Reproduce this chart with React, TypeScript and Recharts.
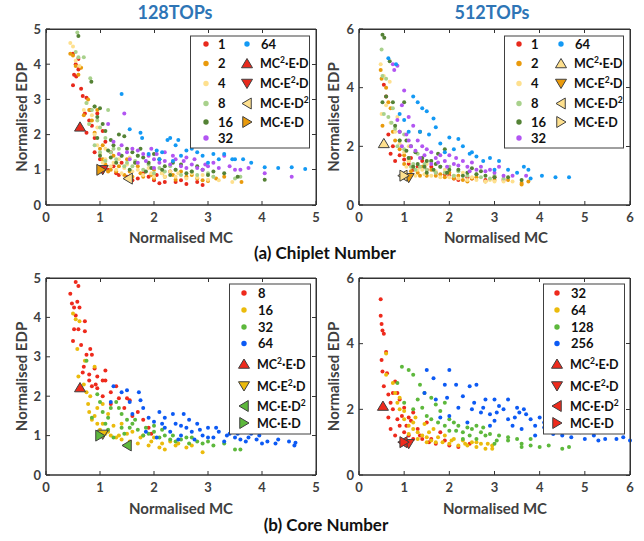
import React from "react";
import { ScatterChart, Scatter, XAxis, YAxis, ReferenceArea } from "recharts";

type Pt = [number, number];
type Dir = "up" | "down" | "left" | "right";

// ── (a) chiplet number, 128TOPs ──
const chip128_1: Pt[] = [[0.5,4.3],[0.55,4.0],[0.6,4.15],[0.52,3.7],[0.56,3.65],[0.5,3.4],[0.6,3.85],[0.65,3.3],[0.68,3.1],[0.75,3.05],[0.72,2.6],[0.8,2.4],[0.75,2.05],[0.85,2.25],[0.9,1.9],[0.95,2.6],[1.05,2.1],[1.1,1.8],[1.2,1.5],[1.3,0.9],[1.5,0.8],[1.6,0.7],[2.0,0.7],[2.1,0.62],[2.2,0.65],[2.5,0.7],[2.6,0.6],[2.8,0.65],[2.9,0.57],[1.8,0.9],[1.4,1.2],[2.3,0.95],[1.0,1.3],[0.82,2.7],[0.62,3.9],[1.15,1.0],[1.35,0.85],[1.7,0.75],[1.9,0.8],[2.4,0.65],[1.25,1.1],[0.9,1.5],[2.05,0.85]];
const chip128_2: Pt[] = [[0.45,4.3],[0.5,4.25],[0.55,3.95],[0.6,3.7],[0.65,3.9],[0.7,2.55],[0.78,3.0],[0.85,2.4],[0.9,2.05],[1.0,1.6],[1.05,1.3],[1.1,1.15],[1.2,1.0],[1.3,0.95],[1.45,0.85],[1.6,0.8],[1.8,0.8],[2.0,0.75],[2.2,0.8],[2.4,0.72],[2.6,0.8],[2.8,0.75],[3.0,0.68],[3.15,0.75],[3.62,0.65],[1.5,1.3],[1.7,1.1],[2.0,1.0],[2.5,0.95],[1.25,1.4],[0.95,2.7],[3.3,0.8],[1.15,0.95],[1.35,1.1],[1.55,0.95],[1.75,0.9],[1.95,0.85],[2.15,0.9],[2.35,0.85],[2.7,0.85],[2.9,0.7],[0.8,2.7],[1.05,1.7]];
const chip128_4: Pt[] = [[0.45,4.6],[0.5,4.5],[0.55,4.1],[0.62,3.95],[0.7,2.7],[0.75,2.9],[0.8,2.3],[0.9,2.0],[0.95,1.7],[1.0,1.45],[1.1,1.3],[1.2,1.1],[1.3,1.0],[1.4,0.9],[1.6,0.95],[1.8,0.85],[2.0,0.8],[2.2,0.8],[2.4,0.8],[2.6,0.75],[2.8,0.78],[3.0,0.72],[3.2,0.7],[3.45,0.65],[1.5,1.15],[1.9,1.05],[2.3,0.95],[2.7,0.9],[1.1,1.6],[0.85,2.55],[1.35,1.3],[1.65,1.2],[1.05,1.2],[1.25,1.2],[1.45,1.05],[1.7,1.0],[1.95,0.9],[2.15,0.9],[2.45,0.9],[2.9,0.85],[3.1,0.8],[0.95,2.2],[1.55,1.35]];
const chip128_8: Pt[] = [[0.55,4.35],[0.58,4.9],[0.6,4.2],[0.7,4.2],[0.82,3.6],[0.75,2.9],[0.85,2.7],[0.9,2.8],[0.95,2.4],[1.0,2.2],[1.1,1.9],[1.15,2.7],[1.2,1.5],[1.3,1.3],[1.4,1.4],[1.5,1.2],[1.6,1.1],[1.8,1.0],[2.0,0.9],[2.2,0.95],[2.5,0.85],[2.8,0.85],[3.1,0.8],[3.5,0.75],[3.6,0.8],[1.0,1.5],[0.9,1.7],[1.7,1.4],[2.3,1.1],[0.8,2.3],[1.1,1.25],[1.25,1.6],[1.45,1.1],[1.65,1.25],[1.9,1.15],[2.1,1.05],[2.4,1.0],[2.7,0.95],[3.0,0.9],[1.35,1.6]];
const chip128_16: Pt[] = [[0.6,4.8],[0.84,3.5],[0.9,2.8],[1.0,2.75],[0.95,2.5],[1.05,2.3],[1.1,2.1],[1.2,1.85],[1.25,1.7],[1.35,2.0],[1.45,1.95],[1.5,1.6],[1.6,1.5],[1.7,1.4],[1.8,1.35],[1.9,1.2],[2.0,1.45],[2.1,1.3],[2.2,1.1],[2.4,1.0],[2.5,1.15],[2.7,0.95],[2.9,1.0],[3.1,0.95],[3.3,0.9],[3.55,0.8],[4.05,0.72],[1.0,1.4],[1.3,1.2],[1.55,1.0],[1.85,0.95],[2.3,0.85],[0.95,1.9],[1.15,1.55],[1.4,1.4],[1.65,1.2],[1.95,1.05],[2.15,1.0],[2.35,1.2],[2.6,0.9],[2.8,1.1],[3.0,0.85],[1.2,1.35],[1.75,1.6]];
const chip128_32: Pt[] = [[1.15,2.3],[1.45,2.6],[1.25,1.8],[1.4,1.7],[1.5,1.5],[1.6,1.6],[1.7,1.55],[1.8,1.45],[1.9,1.4],[2.0,1.3],[2.1,1.2],[2.2,1.25],[2.3,1.15],[2.4,1.3],[2.5,1.1],[2.6,1.05],[2.7,1.15],[2.8,1.05],[2.9,1.0],[3.0,1.1],[3.1,1.2],[3.2,1.05],[3.3,1.4],[3.5,1.0],[3.6,1.0],[3.75,1.05],[4.05,0.9],[4.55,0.8],[1.7,1.2],[2.2,1.5],[2.6,1.35],[2.0,1.05],[1.55,1.3],[1.85,1.25],[2.05,1.45],[2.35,1.4],[2.55,1.25],[2.75,1.3],[2.95,1.15],[3.4,1.1],[1.35,1.45],[1.95,1.6]];
const chip128_64: Pt[] = [[1.4,3.15],[1.55,2.15],[1.75,2.05],[1.78,1.9],[2.05,1.55],[2.15,1.5],[2.25,1.85],[2.3,1.9],[2.4,1.7],[2.45,1.85],[2.6,1.55],[2.7,1.6],[2.8,1.5],[2.9,1.4],[3.0,1.2],[3.1,1.45],[3.2,1.3],[3.3,1.45],[3.45,1.3],[3.5,1.3],[3.65,1.3],[3.8,1.2],[4.05,1.07],[4.3,1.05],[4.55,1.07],[4.8,1.02],[2.35,1.25],[2.5,1.4],[2.1,1.3],[1.9,1.45]];
// optimum markers: MC²·E·D, MC·E²·D, MC·E·D², MC·E·D
const chip128Opt: Pt[] = [[0.63,2.22],[1.05,1.0],[1.52,0.75],[1.02,1.0]];

// ── (a) chiplet number, 512TOPs ──
const chip512_1: Pt[] = [[0.55,4.1],[0.6,3.7],[0.65,2.4],[0.7,1.75],[0.8,1.5],[0.9,1.7],[1.0,1.55],[1.1,1.4],[1.3,1.3],[1.5,1.2],[1.7,1.1],[1.9,1.05],[2.1,0.9],[2.2,0.85],[2.5,0.9],[2.8,0.85],[3.0,0.95],[3.2,0.85],[1.4,1.5],[1.2,1.2],[0.75,2.0],[1.6,1.3],[2.0,1.0],[2.4,0.95],[1.15,1.6]];
const chip512_2: Pt[] = [[0.48,4.6],[0.5,4.3],[0.52,2.7],[0.6,4.0],[0.65,3.5],[0.7,3.3],[0.75,2.5],[0.8,2.2],[0.9,1.9],[1.0,1.7],[1.1,1.5],[1.2,1.3],[1.3,1.1],[1.5,1.0],[1.7,1.0],[1.9,0.95],[2.1,0.9],[2.3,0.85],[2.5,0.9],[2.8,0.8],[3.0,0.85],[3.3,0.85],[3.6,0.75],[3.6,0.7],[3.75,0.8],[1.4,1.3],[1.6,1.2],[2.0,1.1],[1.15,1.15],[1.35,1.0],[1.8,1.05],[2.2,1.0],[2.6,0.95],[2.4,0.8],[1.0,1.4]];
const chip512_4: Pt[] = [[0.48,4.8],[0.5,3.1],[0.55,4.4],[0.6,3.4],[0.68,4.2],[0.7,2.8],[0.8,2.5],[0.9,2.1],[1.0,1.8],[1.1,1.5],[1.2,1.3],[1.3,1.2],[1.45,1.05],[1.6,1.0],[1.8,0.95],[2.0,0.95],[2.2,0.9],[2.4,0.85],[2.6,0.85],[2.8,0.8],[3.0,0.8],[3.4,0.8],[1.5,1.4],[1.9,1.2],[2.3,1.1],[1.1,2.0],[0.85,3.0],[1.05,1.3],[1.25,1.0],[1.4,1.2],[1.7,1.15],[2.1,1.0],[2.5,0.95],[2.9,0.85],[3.2,0.8]];
const chip512_8: Pt[] = [[0.5,5.3],[0.52,4.4],[0.55,3.1],[0.6,4.3],[0.65,3.0],[0.72,2.8],[0.8,2.6],[0.9,2.2],[1.0,1.9],[1.1,1.6],[1.2,1.4],[1.35,1.3],[1.5,1.2],[1.7,1.1],[1.9,1.1],[2.1,1.0],[2.4,1.0],[2.7,0.95],[2.9,0.9],[3.2,0.9],[1.3,1.75],[1.6,1.5],[2.0,1.3],[1.0,2.4],[0.75,3.3],[1.15,1.3],[1.25,1.2],[1.45,1.4],[1.8,1.3],[2.2,1.15],[2.6,1.05],[3.0,1.0],[0.85,2.0]];
const chip512_16: Pt[] = [[0.52,5.8],[0.56,5.7],[0.52,3.5],[0.6,3.7],[0.68,4.9],[0.75,3.5],[0.8,2.7],[0.9,2.5],[1.0,3.5],[1.05,2.2],[1.15,2.0],[1.25,1.8],[1.35,2.5],[1.4,1.6],[1.5,1.5],[1.6,1.5],[1.7,1.4],[1.8,1.3],[1.9,1.9],[2.0,1.2],[2.2,1.2],[2.4,1.1],[2.6,1.05],[2.8,1.0],[3.0,0.95],[3.3,0.95],[3.6,0.85],[1.2,1.3],[1.5,1.1],[1.75,1.75],[1.1,1.6],[1.3,1.4],[1.45,1.3],[1.65,1.2],[1.95,1.1],[2.3,1.0],[2.5,1.25],[2.7,1.15],[0.9,2.2],[1.05,1.85]];
const chip512_32: Pt[] = [[0.75,4.8],[0.85,4.75],[0.78,4.6],[0.95,3.4],[1.0,3.9],[1.1,3.0],[0.9,2.5],[1.05,2.4],[1.2,2.7],[1.3,2.2],[1.4,2.0],[1.5,1.9],[1.6,1.8],[1.7,1.6],[1.8,1.7],[1.9,1.5],[2.0,1.7],[2.1,1.4],[2.2,1.35],[2.3,1.5],[2.4,1.3],[2.6,1.2],[2.7,1.3],[2.8,1.15],[3.0,1.1],[3.2,1.0],[3.4,1.0],[3.7,1.0],[1.15,2.0],[1.35,1.6],[1.6,1.4],[2.5,1.45],[0.95,2.0],[1.25,1.85],[1.45,1.7],[1.75,1.45],[1.95,1.3],[2.15,1.6],[2.45,1.15],[2.9,1.2],[3.1,1.3],[1.1,2.2],[0.85,2.9]];
const chip512_64: Pt[] = [[0.65,5.0],[0.82,4.8],[0.9,3.1],[1.0,2.9],[1.2,3.7],[1.3,3.5],[1.4,3.3],[1.5,3.2],[1.65,2.95],[1.7,2.65],[1.35,2.5],[1.55,2.4],[1.8,2.1],[2.0,2.3],[2.2,2.25],[2.3,2.0],[2.5,1.8],[2.6,1.65],[2.75,1.5],[2.9,1.6],[3.1,1.5],[3.3,1.2],[3.5,1.1],[3.65,1.3],[3.75,1.2],[3.8,0.9],[4.05,1.0],[4.35,0.95],[4.65,0.95],[2.1,1.9],[1.9,1.8],[2.45,1.75],[3.0,1.2],[1.1,2.5]];
const chip512Opt: Pt[] = [[0.55,2.1],[1.1,0.93],[0.97,1.0],[1.0,1.0]];

// ── (b) core number, 128TOPs ──
const core128_8: Pt[] = [[0.45,4.6],[0.48,4.35],[0.55,4.9],[0.58,4.4],[0.6,4.8],[0.52,4.25],[0.55,4.05],[0.62,4.25],[0.52,3.7],[0.6,3.7],[0.72,3.9],[0.72,3.65],[0.5,3.4],[0.65,3.3],[0.75,3.05],[0.82,3.2],[0.85,3.05],[0.68,2.6],[0.7,2.75],[0.8,2.55],[0.9,2.7],[0.95,2.5],[1.1,2.65],[1.05,2.4],[0.95,2.2],[1.1,2.4],[0.85,2.25],[1.2,2.1],[1.35,1.95],[1.5,1.95],[1.55,1.9],[1.7,1.6],[1.8,1.4],[1.2,1.8],[1.45,1.7],[1.9,1.2],[1.95,1.05],[1.6,1.5],[0.8,2.4],[0.92,2.3],[1.3,2.25],[1.05,2.0]];
const core128_16: Pt[] = [[0.5,4.1],[0.55,3.95],[0.62,3.9],[0.58,3.2],[0.72,2.9],[0.6,2.5],[0.7,2.3],[0.75,2.1],[0.78,1.8],[0.8,1.6],[0.85,1.4],[0.9,1.5],[0.95,1.3],[1.0,1.15],[1.1,1.05],[1.2,1.0],[1.3,0.95],[1.4,0.9],[1.55,0.85],[1.7,0.8],[1.9,0.75],[2.1,0.7],[2.2,0.65],[2.4,0.75],[2.6,0.7],[2.9,0.58],[1.15,1.55],[1.4,1.3],[1.6,1.1],[1.8,1.0],[2.0,0.95],[2.3,0.85],[0.9,2.75],[1.05,1.8],[0.82,2.0],[1.25,1.25],[1.05,1.3],[1.15,1.1],[1.35,1.0],[1.5,1.05],[1.75,0.95],[1.95,0.85],[2.15,0.8],[2.45,0.8],[2.7,0.75],[0.95,1.7]];
const core128_32: Pt[] = [[0.75,2.9],[0.95,2.05],[1.0,1.85],[1.05,1.6],[1.1,1.3],[0.85,1.45],[1.2,1.7],[1.3,1.85],[1.35,1.7],[1.4,1.55],[1.5,1.4],[1.55,1.2],[1.6,1.3],[1.7,1.15],[1.8,1.0],[1.9,1.05],[2.0,1.1],[2.1,0.95],[2.2,1.0],[2.3,0.9],[2.4,0.85],[2.5,0.9],[2.65,0.8],[2.8,0.85],[2.9,0.8],[3.1,0.75],[3.5,0.65],[3.6,0.65],[1.25,0.95],[1.45,1.05],[1.0,1.05],[1.15,1.15],[2.0,1.25],[2.6,0.95],[1.15,1.45],[1.4,1.2],[1.65,1.4],[1.85,1.2],[2.15,1.15],[2.35,1.0],[2.7,0.95],[3.0,0.85],[3.3,0.8]];
const core128_64: Pt[] = [[1.2,1.85],[1.25,2.25],[1.4,2.1],[1.5,2.15],[1.55,1.85],[1.72,2.1],[1.75,1.9],[1.8,1.7],[1.6,1.55],[1.9,1.45],[2.0,1.35],[2.1,1.6],[2.15,1.3],[2.2,1.2],[2.3,1.1],[2.35,1.55],[2.4,1.3],[2.5,1.0],[2.6,1.2],[2.65,1.4],[2.7,1.1],[2.8,1.3],[2.9,1.0],[3.0,1.2],[3.1,0.95],[3.2,1.1],[3.3,0.85],[3.4,1.05],[3.5,0.95],[3.6,0.9],[3.7,0.85],[3.8,1.05],[3.9,0.9],[4.0,0.8],[4.1,0.85],[4.25,0.8],[4.5,0.85],[4.6,0.75],[4.62,0.82],[2.05,0.95],[2.45,0.9],[3.0,0.95],[1.85,1.1],[2.75,0.9],[2.2,1.45],[2.5,1.25],[2.85,1.15],[3.15,1.2],[3.35,1.0],[3.55,1.05],[3.75,0.95],[3.95,1.0],[4.3,0.9],[2.55,1.55]];
const core128Opt: Pt[] = [[0.63,2.22],[1.05,1.03],[1.5,0.75],[1.0,1.0]];

// ── (b) core number, 512TOPs ──
const core512_32: Pt[] = [[0.48,5.35],[0.48,4.85],[0.5,4.6],[0.52,4.4],[0.55,4.3],[0.5,3.5],[0.52,3.15],[0.6,3.75],[0.55,2.7],[0.62,3.1],[0.65,2.45],[0.7,2.2],[0.65,1.75],[0.75,2.0],[0.8,2.85],[0.85,2.5],[0.9,2.3],[0.95,1.8],[0.7,1.4],[0.8,1.2],[1.0,2.05],[1.05,1.5],[1.1,1.2],[1.2,1.9],[1.3,1.4],[1.4,1.1],[1.55,1.0],[1.7,0.95],[1.8,1.3],[2.0,0.9],[2.2,0.85],[2.45,0.95],[1.15,1.65],[0.9,1.5],[1.5,1.6],[1.0,1.3],[1.2,1.1],[1.35,1.2],[1.6,1.1],[1.9,1.05],[0.85,1.7],[1.1,1.75],[0.75,2.5]];
const core512_64: Pt[] = [[0.6,3.7],[0.6,3.05],[0.75,2.8],[0.8,2.5],[0.85,2.2],[0.9,2.0],[1.0,1.7],[1.1,1.5],[1.2,1.4],[1.3,1.3],[1.4,1.2],[1.5,1.15],[1.6,1.05],[1.7,1.0],[1.85,1.0],[2.0,0.95],[2.2,0.9],[2.4,0.9],[2.6,0.85],[2.8,0.8],[2.95,0.8],[2.95,0.9],[1.25,1.75],[1.45,1.55],[1.65,1.4],[1.9,1.2],[2.1,1.1],[2.3,1.05],[2.5,1.0],[2.7,0.95],[1.0,1.95],[1.55,1.3],[1.1,1.25],[1.3,1.1],[1.5,1.0],[1.75,1.15],[2.05,1.05],[2.35,0.95],[2.6,1.0],[2.85,0.95],[1.2,1.6],[0.9,2.35]];
const core512_128: Pt[] = [[0.85,2.8],[0.95,3.3],[1.1,3.2],[1.2,3.05],[1.35,2.75],[1.0,2.2],[1.2,2.0],[1.3,2.3],[1.45,2.5],[1.6,2.35],[1.7,2.15],[1.8,1.95],[1.9,2.2],[2.0,1.7],[2.1,1.6],[2.2,1.5],[2.3,1.3],[2.4,1.45],[2.5,1.4],[2.6,1.5],[2.7,1.3],[2.8,1.2],[2.9,1.25],[3.1,1.2],[3.3,1.15],[3.5,1.1],[3.6,0.95],[3.8,0.9],[4.0,0.85],[4.2,0.9],[4.5,0.8],[4.65,0.85],[1.5,1.8],[1.75,1.6],[2.3,1.1],[2.6,1.1],[3.0,0.95],[3.6,0.85],[1.6,1.7],[1.9,1.5],[2.15,1.35],[2.45,1.2],[2.75,1.45],[3.05,1.05],[3.3,1.05],[3.8,1.1],[1.4,2.05],[2.0,1.35]];
const core512_256: Pt[] = [[1.5,3.2],[1.65,2.95],[2.0,3.2],[1.9,2.75],[2.15,2.75],[2.45,2.7],[2.6,2.75],[1.45,2.5],[1.7,2.3],[1.95,2.35],[2.3,2.4],[2.55,2.2],[2.8,2.3],[3.0,2.3],[3.1,2.1],[2.2,2.05],[2.5,2.0],[2.7,1.9],[2.9,1.85],[3.2,2.0],[3.3,1.7],[3.5,2.05],[3.55,1.9],[3.7,1.85],[3.8,1.7],[3.9,1.5],[4.0,1.75],[4.1,1.6],[4.2,1.7],[4.4,1.5],[4.6,1.4],[4.9,1.3],[3.4,1.5],[3.6,1.4],[4.5,1.2],[4.7,1.15],[5.0,1.1],[5.3,1.05],[5.45,1.1],[5.7,1.1],[5.85,1.15],[6.0,1.05],[2.0,1.8],[2.4,1.6],[2.9,1.5],[1.8,1.75],[3.0,1.65],[4.3,1.25],[3.9,1.2],[3.3,2.3],[3.65,2.0],[4.1,1.45],[4.45,1.65],[2.75,2.05],[3.05,1.9],[3.45,1.75],[5.2,1.2]];
const core512Opt: Pt[] = [[0.53,2.1],[1.1,0.95],[0.97,1.0],[1.0,1.0]];

const TICKS_5 = [0, 1, 2, 3, 4, 5];
const TICKS_6 = [0, 1, 2, 3, 4, 5, 6];
const TICKS_Y6 = [0, 2, 4, 6];

const OPT_DIRS: Dir[] = ["up", "down", "left", "right"];
const OPT_NAMES = [
  { a: "MC", s: "2", b: "·E·D" },
  { a: "MC·E", s: "2", b: "·D" },
  { a: "MC·E·D", s: "2", b: "" },
  { a: "MC·E·D", s: "", b: "" },
];

const C = {
  red: "#e8291c", orange: "#e99a0c", cream: "#fee08e", lgreen: "#a8d18c",
  dgreen: "#548235", purple: "#b255f2", sky: "#1399f4",
  r2: "#ee2a1c", gold: "#ebbb0c", green: "#5db83c", blue: "#0c5af4",
};
const EDGE = "#404040";
const AXIS = "#333";
const FONT = "Lato, 'Open Sans', sans-serif";

type Series = { name: string; color: string; pts: Pt[] };

// plot box in page pixels: x0, x1, y0, y1 (chart margins below are set to land there)
const PANELS = [
  {
    left: 0, top: 20, w: 330, h: 240, mt: 9, yw: 46, box: [46, 316, 29, 205], xTicks: TICKS_5, yTicks: TICKS_5,
    series: [
      { name: "1", color: C.red, pts: chip128_1 }, { name: "2", color: C.orange, pts: chip128_2 },
      { name: "4", color: C.cream, pts: chip128_4 }, { name: "8", color: C.lgreen, pts: chip128_8 },
      { name: "16", color: C.dgreen, pts: chip128_16 }, { name: "32", color: C.purple, pts: chip128_32 },
      { name: "64", color: C.sky, pts: chip128_64 },
    ] as Series[],
    opt: chip128Opt, optColors: [C.red, C.red, C.cream, C.orange],
  },
  {
    left: 320, top: 20, w: 324, h: 240, mt: 9, yw: 39, box: [359, 630, 29, 205], xTicks: TICKS_6, yTicks: TICKS_Y6,
    series: [
      { name: "1", color: C.red, pts: chip512_1 }, { name: "2", color: C.orange, pts: chip512_2 },
      { name: "4", color: C.cream, pts: chip512_4 }, { name: "8", color: C.lgreen, pts: chip512_8 },
      { name: "16", color: C.dgreen, pts: chip512_16 }, { name: "32", color: C.purple, pts: chip512_32 },
      { name: "64", color: C.sky, pts: chip512_64 },
    ] as Series[],
    opt: chip512Opt, optColors: [C.cream, C.orange, C.cream, C.cream],
  },
  {
    left: 0, top: 270, w: 330, h: 260, mt: 8, yw: 46, box: [46, 316, 278, 475], xTicks: TICKS_5, yTicks: TICKS_5,
    series: [
      { name: "8", color: C.r2, pts: core128_8 }, { name: "16", color: C.gold, pts: core128_16 },
      { name: "32", color: C.green, pts: core128_32 }, { name: "64", color: C.blue, pts: core128_64 },
    ] as Series[],
    opt: core128Opt, optColors: [C.r2, C.gold, C.green, C.green],
  },
  {
    left: 320, top: 270, w: 324, h: 260, mt: 8, yw: 39, box: [359, 630, 278, 475], xTicks: TICKS_6, yTicks: TICKS_Y6,
    series: [
      { name: "32", color: C.r2, pts: core512_32 }, { name: "64", color: C.gold, pts: core512_64 },
      { name: "128", color: C.green, pts: core512_128 }, { name: "256", color: C.blue, pts: core512_256 },
    ] as Series[],
    opt: core512Opt, optColors: [C.r2, C.r2, C.r2, C.r2],
  },
];

function triPoints(dir: Dir, cx: number, cy: number, s = 5) {
  const a = s * 1.1, b = s * 0.85;
  if (dir === "up") return `${cx},${cy - s} ${cx + a},${cy + b} ${cx - a},${cy + b}`;
  if (dir === "down") return `${cx},${cy + s} ${cx + a},${cy - b} ${cx - a},${cy - b}`;
  if (dir === "left") return `${cx - s},${cy} ${cx + b},${cy - a} ${cx + b},${cy + a}`;
  return `${cx + s},${cy} ${cx - b},${cy - a} ${cx - b},${cy + a}`;
}

const dotShape = (color: string) => (p: any) => <circle cx={p.cx} cy={p.cy} r={2} fill={color} />;
const triShape = (dir: Dir, color: string) => (p: any) => (
  <polygon points={triPoints(dir, p.cx, p.cy)} fill={color} stroke={EDGE} strokeWidth={1} />
);

const tickStyle = { fill: "#404040", fontSize: 13, fontWeight: 700, fontFamily: FONT };

function Panel({ p }: { p: (typeof PANELS)[number] }) {
  const xMax = p.xTicks[p.xTicks.length - 1];
  const yMax = p.yTicks[p.yTicks.length - 1];
  return (
    <div style={{ position: "absolute", left: p.left, top: p.top }}>
      <ScatterChart width={p.w} height={p.h} margin={{ top: p.mt, right: 14, bottom: 0, left: 0 }}>
        <XAxis type="number" dataKey="x" domain={[0, xMax]} ticks={p.xTicks} height={55}
          tickSize={-4} tickMargin={12} stroke={AXIS} tick={tickStyle} />
        <YAxis type="number" dataKey="y" domain={[0, yMax]} ticks={p.yTicks} width={p.yw}
          tickSize={-4} tickMargin={9} stroke={AXIS} tick={tickStyle} />
        {/* full plot frame */}
        <ReferenceArea x1={0} x2={xMax} y1={0} y2={yMax} fill="none" fillOpacity={0}
          stroke={AXIS} strokeWidth={1} ifOverflow="visible" />
        {p.series.map((s) => (
          <Scatter key={s.name} name={s.name} data={s.pts.map(([x, y]) => ({ x, y }))}
            shape={dotShape(s.color)} isAnimationActive={false} />
        ))}
        {p.opt.map(([x, y], i) => (
          <Scatter key={"opt" + i} data={[{ x, y }]}
            shape={triShape(OPT_DIRS[i], p.optColors[i])} isAnimationActive={false} />
        ))}
      </ScatterChart>
    </div>
  );
}

// top and right sides of the box as plain bordered divs, with small inward ticks
function FrameDivs({ p }: { p: (typeof PANELS)[number] }) {
  const [x0, x1, y0, y1] = p.box;
  const xMax = p.xTicks[p.xTicks.length - 1];
  const yMax = p.yTicks[p.yTicks.length - 1];
  return (
    <>
      <div style={{ position: "absolute", left: x0, top: y0 - 0.5, width: x1 - x0 + 0.5, height: y1 - y0 + 0.5,
        borderTop: `1px solid ${AXIS}`, borderRight: `1px solid ${AXIS}`, boxSizing: "border-box", pointerEvents: "none" }} />
      {p.xTicks.map((t) => (
        <div key={"x" + t} style={{ position: "absolute", left: x0 + ((x1 - x0) * t) / xMax - 0.5, top: y0,
          width: 1, height: 4, background: AXIS }} />
      ))}
      {p.yTicks.map((t) => (
        <div key={"y" + t} style={{ position: "absolute", left: x1 - 4, top: y1 - ((y1 - y0) * t) / yMax - 0.5,
          width: 4, height: 1, background: AXIS }} />
      ))}
    </>
  );
}

function OptLabel({ x, y, i }: { x: number; y: number; i: number }) {
  const n = OPT_NAMES[i];
  return (
    <text x={x} y={y} fontSize={12.5} fontWeight={700} fill="#111">
      {n.a}
      {n.s && <tspan dy={-5} fontSize={8.5}>{n.s}</tspan>}
      {n.b && <tspan dy={n.s ? 5 : 0}>{n.b}</tspan>}
    </text>
  );
}

// legend: box + entries laid out by rows
function Legend7({ p, bx, mx1, mx2 }: { p: (typeof PANELS)[number]; bx: number; mx1: number; mx2: number }) {
  const rows = [44, 63.5, 83.5, 103.5, 122, 138];
  return (
    <g>
      <rect x={bx} y={36} width={119} height={112} fill="#fff" stroke={EDGE} strokeWidth={1} />
      {p.series.slice(0, 6).map((s, i) => (
        <g key={s.name}>
          <circle cx={mx1} cy={rows[i]} r={2.7} fill={s.color} />
          <text x={mx1 + 12} y={rows[i] + 4.5} fontSize={13} fontWeight={700} fill="#111">{s.name}</text>
        </g>
      ))}
      <circle cx={mx2} cy={rows[0]} r={2.7} fill={p.series[6].color} />
      <text x={mx2 + 14} y={rows[0] + 4.5} fontSize={13} fontWeight={700} fill="#111">{p.series[6].name}</text>
      {OPT_DIRS.map((d, i) => (
        <g key={d}>
          <polygon points={triPoints(d, mx2, rows[i + 1])} fill={p.optColors[i]} stroke={EDGE} strokeWidth={1} />
          <OptLabel x={mx2 + 13} y={rows[i + 1] + 4.5} i={i} />
        </g>
      ))}
    </g>
  );
}

function Legend4({ p, bx, mx }: { p: (typeof PANELS)[number]; bx: number; mx: number }) {
  const rows = [293, 310, 327, 343.5, 364, 386, 406, 423];
  return (
    <g>
      <rect x={bx} y={284} width={81} height={150} fill="#fff" stroke={EDGE} strokeWidth={1} />
      {p.series.map((s, i) => (
        <g key={s.name}>
          <circle cx={mx} cy={rows[i]} r={2.7} fill={s.color} />
          <text x={mx + 14} y={rows[i] + 4.5} fontSize={13} fontWeight={700} fill="#111">{s.name}</text>
        </g>
      ))}
      {OPT_DIRS.map((d, i) => (
        <g key={d}>
          <polygon points={triPoints(d, mx, rows[i + 4])} fill={p.optColors[i]} stroke={EDGE} strokeWidth={1} />
          <OptLabel x={mx + 13} y={rows[i + 4] + 4.5} i={i} />
        </g>
      ))}
    </g>
  );
}

export default function App() {
  const lab = { fontSize: 15, fontWeight: 700, fill: "#404040", textAnchor: "middle" as const };
  const yLab = (x: number, y: number) => (
    <text {...lab} transform={`translate(${x},${y}) rotate(-90)`}>Normalised EDP</text>
  );
  return (
    <div style={{ position: "absolute", left: 0, top: 0, width: 644, height: 541, background: "#fff", fontFamily: FONT }}>
      {PANELS.map((p, i) => <Panel key={i} p={p} />)}
      <svg width={644} height={541} style={{ position: "absolute", left: 0, top: 0 }} fontFamily={FONT}>
        <text x={175} y={18.5} fontSize={18} fontWeight={700} fill="#2e75b6" textAnchor="middle">128TOPs</text>
        <text x={492} y={18.5} fontSize={18} fontWeight={700} fill="#2e75b6" textAnchor="middle">512TOPs</text>
        <text {...lab} x={181} y={242.5}>Normalised MC</text>
        <text {...lab} x={496} y={242.5}>Normalised MC</text>
        <text {...lab} x={181} y={514}>Normalised MC</text>
        <text {...lab} x={495} y={514}>Normalised MC</text>
        {yLab(26.5, 117)}
        {yLab(338.5, 117)}
        {yLab(26.5, 376.5)}
        {yLab(338.5, 376.5)}
        <text x={325} y={259} fontSize={17} fontWeight={700} fill="#111" textAnchor="middle">(a) Chiplet Number</text>
        <text x={326} y={531} fontSize={17} fontWeight={700} fill="#111" textAnchor="middle">(b) Core Number</text>
        <Legend7 p={PANELS[0]} bx={190.5} mx1={206} mx2={247} />
        <Legend7 p={PANELS[1]} bx={504.5} mx1={519} mx2={561} />
        <Legend4 p={PANELS[2]} bx={229.5} mx={244} />
        <Legend4 p={PANELS[3]} bx={543.5} mx={557} />
      </svg>
      {PANELS.map((p, i) => <FrameDivs key={"f" + i} p={p} />)}
    </div>
  );
}
